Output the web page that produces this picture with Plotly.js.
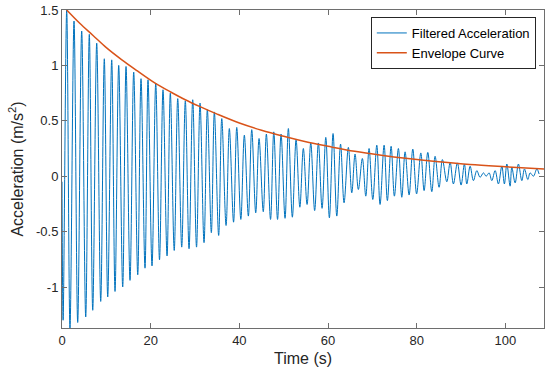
<!DOCTYPE html>
<html>
<head>
<meta charset="utf-8">
<script src="https://cdn.plot.ly/plotly-3.0.1.min.js"></script>
<style>html,body{margin:0;padding:0;background:#fff;}#chart{width:550px;height:378px;}</style>
</head>
<body>
<div id="chart"></div>
<script>
// Filtered acceleration: local maxima (time s, value m/s^2)
const peakTime = [1.06,2.71,4.44,6.16,7.83,9.54,11.21,12.79,14.44,16.17,17.82,19.40,21.14,22.78,24.43,26.10,27.81,29.48,31.13,32.78,34.36,36.03,37.74,39.41,41.12,42.79,44.44,46.09,47.76,49.40,51.05,52.79,54.43,56.10,57.82,59.49,61.13,62.82,64.58,66.09,67.74,69.25,70.99,72.64,74.22,75.86,77.37,79.11,80.92,82.49,84.14,85.79,87.53,89.17,90.75,92.04,93.55,95.04,96.32,97.68,99.19,100.32,101.44,102.93,104.29,105.57,107.08];
const peakAccel = [1.50,1.40,1.31,1.28,1.20,1.06,1.05,1.00,0.99,0.94,0.88,0.87,0.84,0.78,0.75,0.70,0.68,0.69,0.66,0.60,0.58,0.52,0.43,0.44,0.37,0.42,0.34,0.38,0.40,0.38,0.43,0.33,0.25,0.30,0.30,0.35,0.385,0.29,0.26,0.20,0.16,0.25,0.28,0.28,0.27,0.25,0.22,0.245,0.21,0.215,0.18,0.15,0.125,0.12,0.11,0.09,0.05,0.03,0.03,0.05,0.09,0.11,0.08,0.11,0.065,0.03,0.065];
// local minima
const troughTime = [0.25,1.80,3.54,5.35,6.93,8.73,10.31,11.96,13.69,15.34,17.08,18.72,20.30,21.99,23.69,25.31,27.00,28.65,30.34,32.03,33.68,35.33,37.00,38.69,40.33,42.03,43.69,45.39,47.03,48.61,50.30,51.95,53.64,55.27,56.98,58.65,60.30,61.97,63.61,65.35,66.84,68.51,70.09,71.73,73.38,74.96,76.63,78.28,79.97,81.66,83.40,85.04,86.78,88.27,90.00,91.29,92.78,94.29,95.65,96.93,98.42,99.77,101.06,102.19,103.70,105.05,106.32];
const troughAccel = [-1.30,-1.37,-1.32,-1.27,-1.21,-1.13,-1.09,-1.04,-1.00,-0.94,-0.89,-0.83,-0.81,-0.755,-0.72,-0.67,-0.64,-0.655,-0.64,-0.60,-0.51,-0.535,-0.445,-0.415,-0.39,-0.36,-0.33,-0.32,-0.39,-0.39,-0.38,-0.37,-0.28,-0.255,-0.31,-0.29,-0.375,-0.36,-0.24,-0.15,-0.12,-0.18,-0.21,-0.255,-0.22,-0.18,-0.19,-0.17,-0.16,-0.13,-0.14,-0.10,-0.05,-0.07,-0.08,-0.07,-0.04,-0.01,0.0,-0.04,-0.07,-0.07,-0.09,-0.06,-0.04,-0.03,0.0];
// first and last samples
const edgeTime = [0, 107.6];
const edgeAccel = [-0.05, 0.02];

// Envelope curve readings
const envTime = [1.06,4.0,7.0,10.0,13.5,17.0,21.0,24.5,27.8,31.0,35.0,40.0,45.0,50.0,55.0,60.0,66.0,72.0,78.0,85.0,92.0,100.0,108.7];
const envAccel = [1.50,1.38,1.27,1.16,1.05,0.95,0.84,0.76,0.69,0.63,0.56,0.48,0.415,0.36,0.31,0.27,0.225,0.19,0.16,0.13,0.105,0.085,0.066];

const xTicks = [0,20,40,60,80,100];
const yTicks = [-1,-0.5,0,0.5,1,1.5];
const yTickText = ['-1','-0.5','0','0.5','1','1.5'];

// merge extrema into one time-ordered series
const pts = [];
peakTime.forEach((t,i)=>pts.push([t,peakAccel[i]]));
troughTime.forEach((t,i)=>pts.push([t,troughAccel[i]]));
edgeTime.forEach((t,i)=>pts.push([t,edgeAccel[i]]));
pts.sort((a,b)=>a[0]-b[0]);
const sigT = pts.map(p=>p[0]);
const sigA = pts.map(p=>p[1]);

const axisColor = '#262626';
const frameColor = '#6e6e6e';
const font = {family: '"Liberation Sans", Arial, sans-serif', size: 13, color: axisColor};

const traces = [
  {x: sigT, y: sigA, type: 'scatter', mode: 'lines', name: 'Filtered Acceleration',
   line: {color: '#0072BD', width: 1, shape: 'spline', smoothing: 1}},
  {x: envTime, y: envAccel, type: 'scatter', mode: 'lines', name: 'Envelope Curve',
   line: {color: '#D95319', width: 1.5, shape: 'spline', smoothing: 1}}
];

const layout = {
  width: 550, height: 378,
  margin: {l: 62, r: 6, t: 10, b: 50},
  paper_bgcolor: '#fff', plot_bgcolor: '#fff',
  font: font,
  showlegend: true,
  legend: {x: 0.983, y: 0.978, xanchor: 'right', yanchor: 'top',
    bgcolor: '#fff', bordercolor: axisColor, borderwidth: 1,
    font: {family: font.family, size: 13, color: '#000'},
    tracegroupgap: 0, itemwidth: 30},
  xaxis: {range: [0, 108.7], tickvals: xTicks, ticktext: xTicks.map(String),
    ticks: 'inside', ticklen: 5, tickcolor: frameColor, showline: true, linecolor: frameColor, linewidth: 1,
    mirror: 'ticks', showgrid: false, zeroline: false, tickfont: {size: 13, color: axisColor},
    title: {text: 'Time (s)', font: {size: 16, color: axisColor}, standoff: 6}},
  yaxis: {range: [-1.37, 1.5], tickvals: yTicks, ticktext: yTickText,
    ticks: 'inside', ticklen: 5, tickcolor: frameColor, showline: true, linecolor: frameColor, linewidth: 1,
    mirror: 'ticks', showgrid: false, zeroline: false, tickfont: {size: 13, color: axisColor},
    title: {text: 'Acceleration (m/s<sup>2</sup>)', font: {size: 16, color: axisColor}, standoff: 8}}
};

Plotly.newPlot('chart', traces, layout, {displayModeBar: false, staticPlot: true});
</script>
</body>
</html>
